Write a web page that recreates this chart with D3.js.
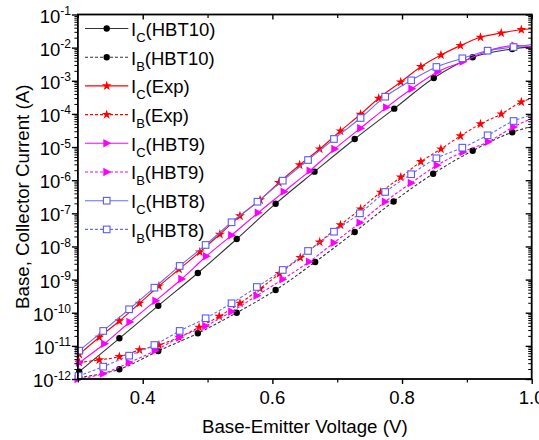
<!DOCTYPE html>
<html><head><meta charset="utf-8">
<script src="https://cdn.jsdelivr.net/npm/d3@7"></script>
<style>
body{margin:0;background:#fff}
svg{display:block}
text{font-family:"Liberation Sans",Arial,sans-serif;fill:#000}
</style>
</head><body><svg id="c" width="539" height="440"></svg>
<script>
// ---- data (V in volts, I in amperes) ----
const vIcHBT10 = [0.302,0.364,0.424,0.485,0.545,0.605,0.665,0.727,0.788,0.849,0.909,0.970,1.0];
const icHBT10  = [1.67e-12,1.69e-11,1.63e-10,1.58e-9,1.68e-8,1.95e-7,1.81e-6,1.75e-5,1.44e-4,1.21e-3,5.12e-3,9.10e-3,1.07e-2];
const vIbHBT10 = [0.302,0.364,0.424,0.485,0.545,0.605,0.666,0.727,0.787,0.848,0.909,0.970,1.0];
const ibHBT10  = [1.12e-12,1.97e-12,7.02e-12,2.40e-11,1.00e-10,4.86e-10,3.40e-9,2.74e-8,2.28e-7,1.57e-6,7.76e-6,2.79e-5,4.17e-5];
const vIcExp = [0.302,0.333,0.364,0.395,0.425,0.456,0.488,0.519,0.550,0.581,0.610,0.642,0.673,0.705,0.736,0.764,0.798,0.829,0.860,0.890,0.921,0.953,0.984,1.0];
const icExp  = [5.58e-12,1.82e-11,5.64e-11,1.93e-10,6.41e-10,2.05e-9,6.81e-9,2.33e-8,8.32e-8,2.53e-7,8.41e-7,2.88e-6,8.73e-6,3.05e-5,9.75e-5,2.96e-4,9.18e-4,2.66e-3,6.00e-3,1.15e-2,2.05e-2,2.77e-2,3.48e-2,3.72e-2];
const vIbExp = [0.302,0.333,0.364,0.395,0.425,0.456,0.487,0.518,0.550,0.581,0.611,0.643,0.673,0.705,0.736,0.767,0.798,0.829,0.860,0.890,0.921,0.953,0.984,1.0];
const ibExp  = [3.16e-12,3.76e-12,4.72e-12,7.52e-12,1.06e-11,1.82e-11,3.64e-11,7.82e-11,1.93e-10,5.32e-10,1.51e-9,4.58e-9,1.36e-8,4.45e-8,1.35e-7,4.32e-7,1.23e-6,3.61e-6,8.73e-6,2.16e-5,4.97e-5,9.95e-5,2.29e-4,2.96e-4];
const vIcHBT9 = [0.302,0.341,0.380,0.420,0.460,0.498,0.537,0.578,0.618,0.658,0.696,0.736,0.776,0.815,0.855,0.894,0.933,0.974,1.0];
const icHBT9  = [3.11e-12,1.16e-11,5.26e-11,2.31e-10,1.04e-9,5.06e-9,2.17e-8,1.04e-7,4.50e-7,1.94e-6,8.73e-6,3.71e-5,1.58e-4,5.73e-4,1.88e-3,3.77e-3,8.09e-3,1.15e-2,1.08e-2];
const vIbHBT9 = [0.300,0.339,0.379,0.419,0.457,0.497,0.537,0.576,0.616,0.657,0.695,0.735,0.774,0.814,0.854,0.894,0.933,0.972,1.0];
const ibHBT9  = [1.00e-12,1.45e-12,3.11e-12,7.16e-12,1.82e-11,3.98e-11,1.08e-10,3.27e-10,1.02e-9,3.48e-9,1.30e-8,5.22e-8,2.24e-7,8.22e-7,2.82e-6,7.10e-6,1.45e-5,4.03e-5,7.38e-5];
const vIcHBT8 = [0.302,0.339,0.379,0.418,0.457,0.497,0.537,0.577,0.616,0.655,0.695,0.736,0.774,0.814,0.853,0.893,0.932,0.972,1.0];
const icHBT8  = [7.16e-12,2.82e-11,1.27e-10,5.70e-10,2.58e-9,1.11e-8,5.37e-8,2.24e-7,9.66e-7,4.06e-6,1.75e-5,7.53e-5,3.31e-4,1.03e-3,2.61e-3,4.76e-3,8.09e-3,1.04e-2,1.24e-2];
const vIbHBT8 = [0.301,0.339,0.379,0.418,0.457,0.497,0.537,0.576,0.616,0.655,0.695,0.735,0.774,0.814,0.853,0.893,0.932,0.972,1.0];
const ibHBT8  = [1.24e-12,2.36e-12,5.06e-12,1.06e-11,2.82e-11,6.81e-11,1.93e-10,5.98e-10,1.95e-9,7.31e-9,2.79e-8,1.00e-7,4.41e-7,1.51e-6,4.58e-6,9.57e-6,2.26e-5,6.11e-5,9.27e-5];

const seriesSub   = ["C","B","C","B","C","B","C","B"];
const seriesNames = ["(HBT10)","(HBT10)","(Exp)","(Exp)","(HBT9)","(HBT9)","(HBT8)","(HBT8)"];
const xTickValues = [0.4,0.6,0.8,1.0];
const xTickLabels = ["0.4","0.6","0.8","1.0"];
const xMinorTicks = [0.3,0.5,0.7,0.9];
const yTickExponents = [-1,-2,-3,-4,-5,-6,-7,-8,-9,-10,-11,-12];
const xTitle = "Base-Emitter Voltage (V)";
const yTitle = "Base, Collector Current (A)";

// ---- styles ----
const styles = [
  {color:"#000000", line:"#333333", dash:null, marker:"circle"},
  {color:"#000000", line:"#333333", dash:"3,2", marker:"circle"},
  {color:"#ff0000", line:"#ff0000", dash:null, marker:"star"},
  {color:"#ff0000", line:"#ff0000", dash:"3,2", marker:"star"},
  {color:"#ff00ff", line:"#ff00ff", dash:null, marker:"tri"},
  {color:"#ff00ff", line:"#ff00ff", dash:"3,2", marker:"tri"},
  {color:"#5a5aff", line:"#6a6aff", dash:null, marker:"square"},
  {color:"#5a5aff", line:"#6a6aff", dash:"3,2", marker:"square"}
];
const seriesX = [vIcHBT10,vIbHBT10,vIcExp,vIbExp,vIcHBT9,vIbHBT9,vIcHBT8,vIbHBT8];
const seriesY = [icHBT10,ibHBT10,icExp,ibExp,icHBT9,ibHBT9,icHBT8,ibHBT8];
const series = seriesX.map((xs,i)=>({
  sub:seriesSub[i], name:seriesNames[i], style:styles[i],
  pts: xs.map((v,j)=>({v:v, i:seriesY[i][j]}))
}));

const L=77.9, R=531.7, T=14.5, B=379;
const svg = d3.select("#c");
const x = d3.scaleLinear().domain([0.3,1.0]).range([L,R]);
const y = d3.scaleLog().domain([1e-12,1e-1]).range([B,T]);

function drawMarker(g, type, col, cx, cy){
  if(type==="circle"){
    g.append("path").attr("d",d3.symbol(d3.symbolCircle,32)()).attr("transform",`translate(${cx},${cy})`).attr("fill",col);
  } else if(type==="star"){
    g.append("path").attr("d",d3.symbol(d3.symbolStar,30)()).attr("transform",`translate(${cx},${cy})`).attr("fill",col);
  } else if(type==="tri"){
    g.append("path").attr("d","M-3.4,-4.2L4.6,0L-3.4,4.2Z").attr("transform",`translate(${cx},${cy})`).attr("fill",col);
  } else {
    g.append("rect").attr("x",cx-3.3).attr("y",cy-3.3).attr("width",6.6).attr("height",6.6)
      .attr("fill","#fff").attr("stroke",col).attr("stroke-width",1.1);
  }
}

// ---- curves ----
const line = d3.line().x(d=>x(d.v)).y(d=>y(d.i)).curve(d3.curveMonotoneX);
const plot = svg.append("g");
series.forEach(s=>{
  plot.append("path").attr("d",line(s.pts)).attr("fill","none")
    .attr("stroke",s.style.line).attr("stroke-width",1.1)
    .attr("stroke-dasharray",s.style.dash);
  const mg = plot.append("g");
  s.pts.forEach(p=>{ if(p.v<1.0) drawMarker(mg,s.style.marker,s.style.color,x(p.v),y(p.i)); });
});

// ---- axes ----
const ax = svg.append("g").attr("stroke","#000");
ax.append("g").attr("transform",`translate(0,${B})`)
  .call(d3.axisBottom(x).tickValues(xTickValues).tickSize(5).tickFormat(""))
  .call(g=>{g.select(".domain").remove(); g.selectAll("line").attr("stroke-width",1.4);});
ax.append("g").attr("transform",`translate(0,${B})`)
  .call(d3.axisBottom(x).tickValues(xMinorTicks).tickSize(3.5).tickFormat(""))
  .call(g=>{g.select(".domain").remove(); g.selectAll("line").attr("stroke-width",1.2);});
ax.append("g").attr("transform",`translate(0,${T})`)
  .call(d3.axisBottom(x).tickValues(xTickValues).tickSize(5).tickFormat(""))
  .call(g=>{g.select(".domain").remove(); g.selectAll("line").attr("stroke-width",1.4);});
ax.append("g").attr("transform",`translate(0,${T})`)
  .call(d3.axisBottom(x).tickValues(xMinorTicks).tickSize(3.5).tickFormat(""))
  .call(g=>{g.select(".domain").remove(); g.selectAll("line").attr("stroke-width",1.2);});

const majorY = yTickExponents.map(e=>Math.pow(10,e));
const minorY = [];
yTickExponents.forEach(e=>{ if(e<-1){ for(let k=2;k<=9;k++) minorY.push(k*Math.pow(10,e)); }});
ax.append("g").attr("transform",`translate(${L},0)`)
  .call(d3.axisLeft(y).tickValues(majorY).tickSize(6).tickFormat(""))
  .call(g=>{g.select(".domain").remove(); g.selectAll("line").attr("stroke-width",1.4);});
ax.append("g").attr("transform",`translate(${L},0)`)
  .call(d3.axisLeft(y).tickValues(minorY).tickSize(3.5).tickFormat(""))
  .call(g=>{g.select(".domain").remove(); g.selectAll("line").attr("stroke-width",1);});
ax.append("g").attr("transform",`translate(${R},0)`)
  .call(d3.axisLeft(y).tickValues(majorY).tickSize(6).tickFormat(""))
  .call(g=>{g.select(".domain").remove(); g.selectAll("line").attr("stroke-width",1.4);});
ax.append("g").attr("transform",`translate(${R},0)`)
  .call(d3.axisLeft(y).tickValues(minorY).tickSize(3.5).tickFormat(""))
  .call(g=>{g.select(".domain").remove(); g.selectAll("line").attr("stroke-width",1);});

svg.append("rect").attr("x",L).attr("y",T).attr("width",R-L).attr("height",B-T)
  .attr("fill","none").attr("stroke","#000").attr("stroke-width",1.8);

xTickValues.forEach((v,i)=>{
  svg.append("text").attr("x",x(v)).attr("y",404.3).attr("text-anchor","middle")
    .attr("font-size",18.5).text(xTickLabels[i]);
});
yTickExponents.forEach(e=>{
  const t = svg.append("text").attr("x",71).attr("y",y(Math.pow(10,e))+8).attr("text-anchor","end").attr("font-size",18.5);
  t.append("tspan").text("10");
  t.append("tspan").attr("dy",-7.5).attr("font-size",12).text(String(e));
});

svg.append("text").attr("x",(L+R)/2).attr("y",433).attr("text-anchor","middle").attr("font-size",18.7).text(xTitle);
svg.append("text").attr("transform",`translate(28.5,${(T+B)/2}) rotate(-90)`).attr("text-anchor","middle").attr("font-size",18.7).text(yTitle);

const lg = svg.append("g");
series.forEach((s,i)=>{
  const ly = 28.5 + i*28.7;
  lg.append("line").attr("x1",85).attr("x2",128.3).attr("y1",ly).attr("y2",ly)
    .attr("stroke",s.style.line).attr("stroke-width",1.1).attr("stroke-dasharray",s.style.dash);
  drawMarker(lg,s.style.marker,s.style.color,106.7,ly);
  const t = lg.append("text").attr("x",131).attr("y",ly+7.4).attr("font-size",18.5);
  t.append("tspan").text("I");
  t.append("tspan").attr("dy",6).attr("font-size",13).text(s.sub);
  t.append("tspan").attr("dy",-6).text(s.name);
});
</script>
</body></html>
